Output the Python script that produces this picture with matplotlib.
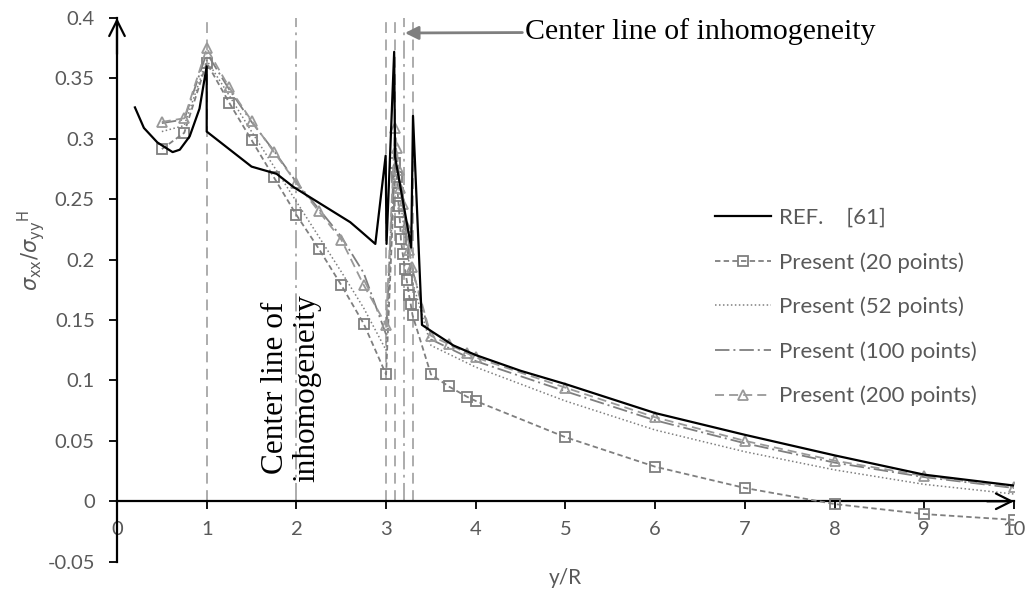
"""Stress ratio along y/R: reference solution vs present results."""

import matplotlib

matplotlib.use("Agg")
import matplotlib.pyplot as plt

# ---- data ----
ref_x = [0.2, 0.3, 0.45, 0.62, 0.7, 0.81, 0.92, 1.0, 1.0, 1.5, 1.78, 1.97, 2.6, 2.71,
         2.88, 2.995, 3.005, 3.09, 3.10, 3.28, 3.30, 3.40, 3.5, 3.75, 4.0, 4.5, 5.0,
         6.0, 7.0, 8.0, 9.0, 10.0]
ref_y = [0.326, 0.309, 0.297, 0.289, 0.291, 0.302, 0.325, 0.360, 0.306, 0.277, 0.271,
         0.260, 0.231, 0.224, 0.213, 0.286, 0.213, 0.372, 0.285, 0.210, 0.319, 0.146,
         0.141, 0.129, 0.121, 0.108, 0.097, 0.073, 0.055, 0.038, 0.022, 0.013]

p20_x = [0.5, 0.75, 1.0, 1.25, 1.5, 1.75, 2.0, 2.25, 2.5, 2.75, 3.0,
         3.10, 3.12, 3.13, 3.14, 3.155, 3.165, 3.185, 3.21, 3.23, 3.255, 3.275, 3.295,
         3.5, 3.7, 3.9, 4.0, 5.0, 6.0, 7.0, 8.0, 9.0, 10.0]
p20_y = [0.2915, 0.305, 0.363, 0.330, 0.299, 0.268, 0.237, 0.209, 0.179, 0.147, 0.105,
         0.280, 0.268, 0.255, 0.2445, 0.231, 0.217, 0.205, 0.1925, 0.183, 0.171, 0.163, 0.154,
         0.105, 0.095, 0.0866, 0.083, 0.053, 0.0286, 0.011, -0.0023, -0.0106, -0.0154]

p52_x = [0.5, 0.75, 1.0, 1.25, 1.5, 1.75, 2.0, 2.25, 2.5, 2.75, 3.0,
         3.1, 3.15, 3.2, 3.25, 3.3, 3.5, 4.0, 5.0, 6.0, 7.0, 8.0, 9.0, 10.0]
p52_y = [0.306, 0.311, 0.365, 0.336, 0.306, 0.277, 0.248, 0.219, 0.190, 0.160, 0.125,
         0.290, 0.255, 0.225, 0.200, 0.180, 0.129, 0.111, 0.083, 0.059, 0.041, 0.026,
         0.014, 0.006]

p100_x = [0.5, 0.75, 1.0, 1.25, 1.5, 1.75, 2.0, 2.25, 2.5, 2.75, 3.0,
          3.1, 3.15, 3.2, 3.25, 3.3, 3.5, 4.0, 5.0, 6.0, 7.0, 8.0, 9.0, 10.0]
p100_y = [0.313, 0.316, 0.371, 0.341, 0.314, 0.290, 0.264, 0.242, 0.219, 0.189, 0.138,
          0.300, 0.265, 0.235, 0.210, 0.190, 0.134, 0.116, 0.091, 0.067, 0.048, 0.032,
          0.020, 0.011]

p200_x = [0.5, 0.75, 1.0, 1.25, 1.5, 1.75, 2.0, 2.25, 2.5, 2.75, 3.0,
          3.10, 3.12, 3.14, 3.155, 3.19, 3.23, 3.26, 3.285,
          3.5, 3.7, 3.9, 4.0, 5.0, 6.0, 7.0, 8.0, 9.0, 10.0]
p200_y = [0.314, 0.317, 0.375, 0.3426, 0.315, 0.289, 0.2635, 0.240, 0.2166, 0.179, 0.146,
          0.309, 0.292, 0.274, 0.259, 0.246, 0.227, 0.208, 0.194,
          0.137, 0.130, 0.1226, 0.119, 0.094, 0.0695, 0.050, 0.0336, 0.021, 0.0115]

guide_x = [1.0, 2.0, 3.0, 3.1, 3.2, 3.3]
guide_styles = ["dashed", "dashdot", "dashed", "dashed", "dashdot", "dashed"]

x_ticks = list(range(0, 11))
y_ticks = [-0.05, 0.0, 0.05, 0.1, 0.15, 0.2, 0.25, 0.3, 0.35, 0.4]
y_tick_labels = ["-0.05", "0", "0.05", "0.1", "0.15", "0.2", "0.25", "0.3", "0.35", "0.4"]

TEXT_GREY = "#595959"
SANS = ["Lato", "DejaVu Sans"]
SERIF = ["Liberation Serif", "DejaVu Serif"]

plt.rcParams["font.family"] = SANS
plt.rcParams["font.size"] = 14.5

fig = plt.figure(figsize=(10.29, 5.9), dpi=100)
ax = fig.add_axes([0.1137, 0.048, 0.8717, 0.9215])

dash_patterns = {
    "dashed": (0, (6, 3.6)),
    "dashdot": (0, (10, 3, 1.5, 3)),
}
for gx, style in zip(guide_x, guide_styles):
    ax.plot([gx, gx], [0.0, 0.4], color="#a6a6a6", lw=1.3,
            linestyle=dash_patterns[style], zorder=1)

ax.plot(ref_x, ref_y, color="black", lw=1.6, label="REF.    [61]", zorder=5)
ax.plot(p20_x, p20_y, color="#7f7f7f", lw=1.3, linestyle=(0, (3, 1.8)),
        marker="s", markersize=6.5, markerfacecolor="none", markeredgewidth=1.3,
        label="Present (20 points)", zorder=4)
ax.plot(p52_x, p52_y, color="#7f7f7f", lw=1.1, linestyle=(0, (1, 1.6)),
        label="Present (52 points)", zorder=3)
ax.plot(p100_x, p100_y, color="#7f7f7f", lw=1.3, linestyle=(0, (8, 2.2, 1.1, 2.2)),
        label="Present (100 points)", zorder=3)
ax.plot(p200_x, p200_y, color="#999999", lw=1.3, linestyle=(0, (5, 2.8)),
        marker="^", markersize=7, markerfacecolor="none", markeredgewidth=1.3,
        label="Present (200 points)", zorder=4)

ax.set_xlim(0, 10)
ax.set_ylim(-0.05, 0.4)

for side in ("top", "right"):
    ax.spines[side].set_visible(False)
ax.spines["bottom"].set_position(("data", 0))
ax.spines["left"].set_linewidth(1.6)
ax.spines["bottom"].set_linewidth(1.6)

ax.set_xticks(x_ticks)
ax.set_yticks(y_ticks)
ax.set_yticklabels(y_tick_labels)
ax.tick_params(axis="both", colors="black", labelcolor=TEXT_GREY, width=1.3,
               length=6, direction="out")
ax.tick_params(axis="x", pad=8)
ax.tick_params(axis="y", pad=10)

# open arrow heads at the ends of both axes
head = dict(arrowstyle="->", lw=1.6, color="black", mutation_scale=28,
            shrinkA=0, shrinkB=0)
ax.annotate("", xy=(0, 0.4), xytext=(0, 0.37), arrowprops=head, annotation_clip=False)
ax.annotate("", xy=(10, 0), xytext=(9.7, 0), arrowprops=head, annotation_clip=False)

ax.set_xlabel("y/R", color=TEXT_GREY, fontsize=15)
ax.xaxis.set_label_coords(0.5, -0.012)
ax.set_ylabel(r"$\sigma_\mathrm{xx}/\sigma_\mathrm{yy}{}^\mathrm{H}$", color=TEXT_GREY,
              fontsize=15)
ax.yaxis.set_label_coords(-0.078, 0.573)

ax.annotate("Center line of inhomogeneity", xy=(3.21, 0.3876), xytext=(4.55, 0.3885),
            ha="left", va="center", fontsize=21.5, family=SERIF, color="black",
            arrowprops=dict(arrowstyle="-|>", color="#7f7f7f", lw=2,
                            mutation_scale=20, shrinkA=0, shrinkB=0))
ax.text(1.94, 0.094, "Center line of\ninhomogeneity", rotation=90, ha="center",
        va="center", multialignment="center", linespacing=1.1, fontsize=22.5,
        family=SERIF, color="black")

leg = ax.legend(loc="upper left", bbox_to_anchor=(0.695, 0.6475),
                bbox_transform=fig.transFigure, frameon=False, borderpad=0,
                borderaxespad=0, handlelength=2.5, handletextpad=0.36,
                labelspacing=1.08, fontsize=16)
for text in leg.get_texts():
    text.set_color(TEXT_GREY)

fig.savefig("out.png", dpi=100)
